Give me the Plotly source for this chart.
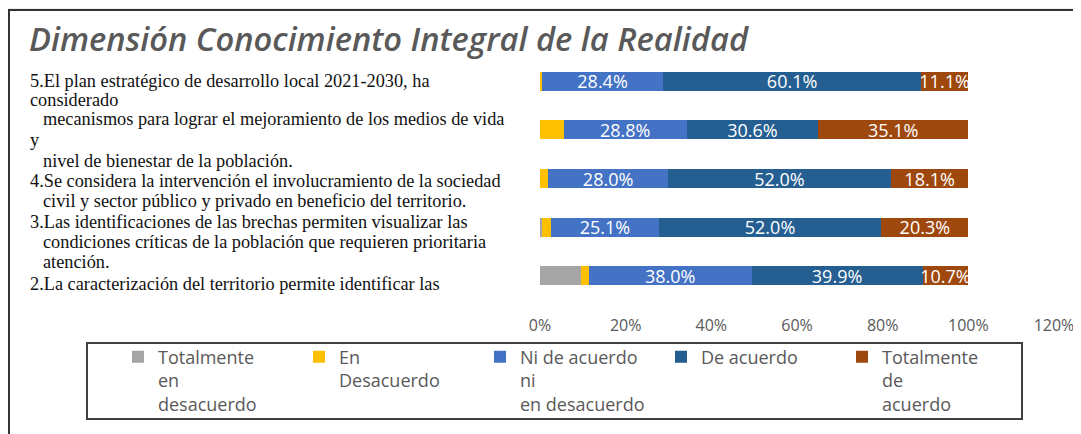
import plotly.graph_objects as go

# ── data (bottom row first, as in the source chart) ─────────────────────────
items = ["1", "2", "3", "4", "5"]
totalmente_desacuerdo = [0.096, 0.005, 0.000, 0.000, 0.000]
en_desacuerdo = [0.018, 0.021, 0.019, 0.055, 0.004]
ni_acuerdo_ni_desacuerdo = [0.380, 0.251, 0.280, 0.288, 0.284]
de_acuerdo = [0.399, 0.520, 0.520, 0.306, 0.601]
totalmente_acuerdo = [0.107, 0.203, 0.181, 0.351, 0.111]

series_names = [
    "Totalmente<br>en<br>desacuerdo",
    "En<br>Desacuerdo",
    "Ni de acuerdo<br>ni<br>en desacuerdo",
    "De acuerdo",
    "Totalmente<br>de<br>acuerdo",
]
series_values = [totalmente_desacuerdo, en_desacuerdo, ni_acuerdo_ni_desacuerdo,
                 de_acuerdo, totalmente_acuerdo]
series_colors = ["#A5A5A5", "#FFC000", "#4472C4", "#255E91", "#9E480E"]
series_show_text = [False, False, True, True, True]

x_ticks = [0, 0.2, 0.4, 0.6, 0.8, 1.0, 1.2]

title_text = "Dimensión Conocimiento Integral de la Realidad"

# the question text as it sits to the left of the bars (line, indent, y px)
label_lines = [
    ("5.El plan estratégico de desarrollo local 2021-2030, ha", 0, 81),
    ("considerado", 0, 100),
    ("mecanismos para lograr el mejoramiento de los medios de vida", 1, 119),
    ("y", 0, 140),
    ("nivel de bienestar de la población.", 1, 161),
    ("4.Se considera la intervención el involucramiento de la sociedad", 0, 181),
    ("civil y sector público y privado en beneficio del territorio.", 1, 201),
    ("3.Las identificaciones de las brechas permiten visualizar las", 0, 222),
    ("condiciones críticas de la población que requieren prioritaria", 1, 242),
    ("atención.", 1, 262),
    ("2.La caracterización del territorio permite identificar las", 0, 284),
]

# ── page geometry (page px; the html body keeps its 8px default margin) ────
PAGE_W, PAGE_H = 1081, 434
OFF = 8
W, H = PAGE_W - OFF, PAGE_H - OFF
L, R, T, B = 540, 1054, 57, 300


def fx(px):
    return (px - L) / (R - L)


def fy(py):
    return (B - py) / (B - T)


def cx(px):
    return (px - OFF) / W


def cy(py):
    return 1 - (py - OFF) / H


fig = go.Figure()

for name, vals, color, show in zip(series_names, series_values, series_colors, series_show_text):
    fig.add_trace(go.Bar(
        name=name,
        y=items,
        x=vals,
        orientation="h",
        marker=dict(color=color, line=dict(width=0)),
        texttemplate="%{x:.1%}" if show else None,
        textposition="inside" if show else "none",
        insidetextanchor="middle",
        textangle=0,
        constraintext="none",
        textfont=dict(family="Open Sans", size=18, color="white"),
        hovertemplate=f"{name.replace('<br>', ' ')}: %{{x:.1%}}<extra></extra>",
    ))

annotations = []
for text, indent, ypx in label_lines:
    annotations.append(dict(
        text=text, xref="paper", yref="paper",
        x=fx(28 if indent == 0 else 41), y=fy(ypx),
        xanchor="left", yanchor="middle", showarrow=False,
        font=dict(family="Liberation Serif", size=18.3, color="#111111"),
    ))

shapes = [
    # white chart area with the dark frame on top / left
    dict(type="rect", xref="paper", yref="paper", layer="below",
         x0=fx(OFF + 1), x1=fx(PAGE_W + 20), y0=fy(PAGE_H + 20), y1=fy(OFF + 2),
         fillcolor="white", line=dict(color="#333333", width=2)),
    # legend box
    dict(type="rect", xref="paper", yref="paper",
         x0=fx(87), x1=fx(1022), y0=fy(419), y1=fy(343),
         fillcolor="rgba(0,0,0,0)", line=dict(color="#404040", width=2)),
]

fig.update_layout(
    barmode="stack",
    bargap=0.61,
    width=W, height=H,
    margin=dict(l=L - OFF, r=PAGE_W - R, t=T - OFF, b=PAGE_H - B, pad=0),
    paper_bgcolor="#EFEEEA",
    plot_bgcolor="white",
    title=dict(
        text=f"<i>{title_text}</i>",
        xref="container", yref="container",
        x=cx(29), xanchor="left",
        y=cy(40), yanchor="middle",
        font=dict(family="Open Sans", size=32.7, color="#595959", weight=600),
    ),
    xaxis=dict(
        range=[0, 1.2], tickvals=x_ticks, tickformat=".0%",
        showgrid=False, zeroline=False, showline=False, automargin=False,
        tickfont=dict(family="Open Sans", size=16, color="#595959"),
        ticklabelstandoff=14,
    ),
    yaxis=dict(
        categoryorder="array", categoryarray=items, automargin=False,
        showticklabels=False, showgrid=False, zeroline=False, showline=False,
    ),
    legend=dict(
        orientation="h", traceorder="normal",
        x=fx(118), xanchor="left", y=fy(338.5), yanchor="top",
        bgcolor="rgba(0,0,0,0)", borderwidth=0,
        entrywidth=136, valign="top",
        font=dict(family="Open Sans", size=18, color="#595959"),
    ),
    annotations=annotations,
    shapes=shapes,
    showlegend=True,
)

fig.write_html("out.html")
